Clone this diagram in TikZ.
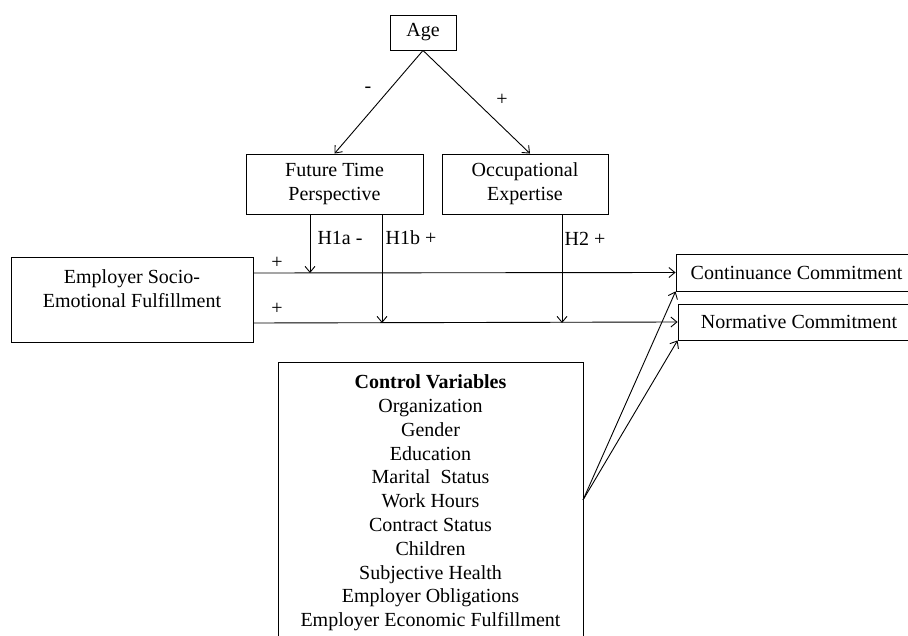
\documentclass[tikz,border=0pt]{standalone}
\usepackage{fontspec}
\setmainfont{Liberation Serif}
\usetikzlibrary{arrows.meta}
\begin{document}
\begin{tikzpicture}[x=1pt,y=-1pt,
  every node/.style={font=\fontsize{20}{23.8}\selectfont},
  box/.style={draw,line width=0.9pt,inner sep=0pt,align=center},
  conn/.style={line width=0.9pt,-{Straight Barb[length=6pt,width=10pt]}},
  lbl/.style={inner sep=0pt}]
\useasboundingbox (0,0) rectangle (908,636);
\fill[white] (0,0) rectangle (908,636);
% boxes
\node[box,minimum width=66pt,minimum height=35pt] (age) at (423,32.5) {Age};
\node[box,minimum width=177pt,minimum height=60pt] (ftp) at (334.5,184) {Future Time\\Perspective};
\node[box,minimum width=166pt,minimum height=60pt] (oe) at (525,184) {Occupational\\Expertise};
\node[box,minimum width=242pt,minimum height=85pt] (esef) at (132,299.5) {};
\node[lbl,align=center] (eseft) at (132,288.5) {Employer Socio-\\Emotional Fulfillment};
\node[box,minimum width=241pt,minimum height=37pt] (cc) at (796.5,272.5) {Continuance Commitment};
\node[box,minimum width=242pt,minimum height=36pt] (nc) at (799,322) {Normative Commitment};
\node[box,minimum width=305pt,minimum height=282pt] (ctrl) at (430.5,503) {\textbf{Control Variables}\\Organization\\Gender\\Education\\Marital\ \ Status\\Work Hours\\Contract Status\\Children\\Subjective Health\\Employer Obligations\\Employer Economic Fulfillment};
% junctions
\coordinate (j1) at (310,273);
\coordinate (j2) at (382,323);
\coordinate (j3) at (562,323);
\coordinate (cs) at (583,500);
% age arrows
\draw[conn] (age.south) -- (ftp.north);
\draw[conn] (age.south) -- ([xshift=5pt]oe.north);
% main paths
\draw[conn] (esef.east |- j1) -- (cc.west);
\draw[conn] (esef.east |- j2) -- (nc.west);
% moderators
\draw[conn] (ftp.south -| j1) -- (j1);
\draw[conn] (ftp.south -| j2) -- (j2);
\draw[conn] (oe.south -| j3) -- (j3);
% controls
\draw[conn] (cs) -- (cc.south west);
\draw[conn] (cs) -- (nc.south west);
% labels
\node[lbl] (lm) at (368,90) {-};
\node[lbl] (lp) at (502,100) {+};
\node[lbl] (p1) at (277,263) {+};
\node[lbl] (p2) at (277,309) {+};
\node[lbl] (h1a) at (340,238) {H1a -};
\node[lbl] (h1b) at (411,238) {H1b +};
\node[lbl] (h2) at (585,239) {H2 +};
\end{tikzpicture}
\end{document}
